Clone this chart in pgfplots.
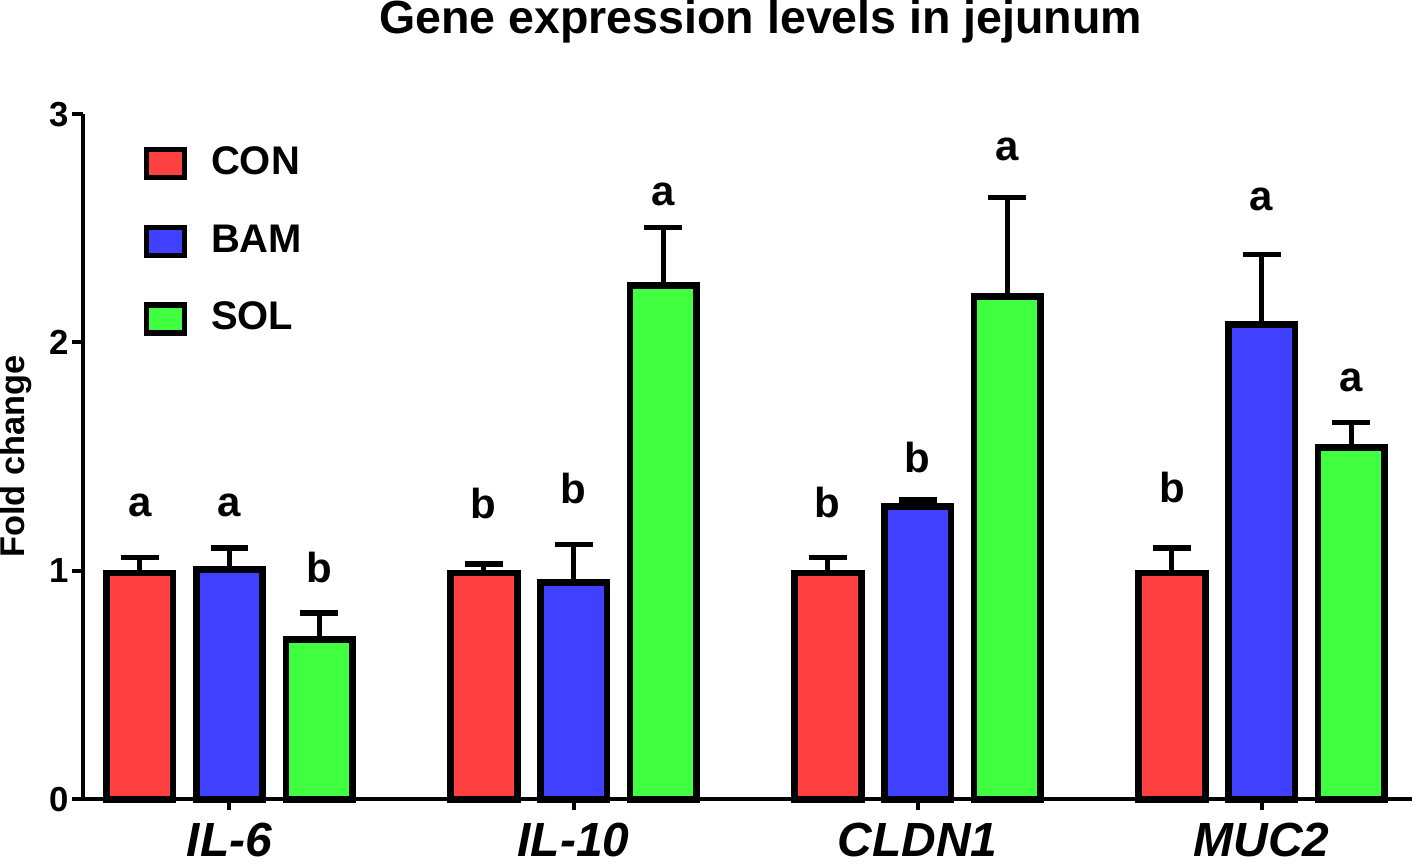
\documentclass[border=0pt]{standalone}
\usepackage{fontspec}
\setmainfont{Liberation Sans}
\usepackage{pgfplots}
\pgfplotsset{compat=1.18}
\definecolor{conred}{HTML}{FF4040}
\definecolor{bamblue}{HTML}{4040FF}
\definecolor{solgreen}{HTML}{40FF40}

% bar centre x, mean, upper SEM
\pgfplotstableread{
x      y     e
-0.261 0.99  0.07
 0.739 0.99  0.04
 1.739 0.99  0.07
 2.739 0.99  0.11
}\con
\pgfplotstableread{
x      y     e
 0.000 1.005 0.095
 1.000 0.95  0.165
 2.000 1.28  0.03
 3.000 2.08  0.305
}\bam
\pgfplotstableread{
x      y     e
 0.261 0.70  0.115
 1.261 2.25  0.255
 2.261 2.20  0.435
 3.261 1.54  0.11
}\sol
% significance letters (baseline height)
\pgfplotstableread{
x      ly    lab
-0.261 1.237 a
 0.000 1.237 a
 0.261 0.949 b
 0.739 1.229 b
 1.000 1.294 b
 1.261 2.602 a
 1.739 1.233 b
 2.000 1.430 b
 2.261 2.798 a
 2.739 1.299 b
 3.000 2.580 a
 3.261 1.784 a
}\letters

\pgfplotsset{
  gbar/.style={ybar, bar width=0.194, bar shift=0pt, draw=black, line width=1.7pt,
    legend image code/.code={\draw[##1, line width=1.3pt] (0pt,-3.5pt) rectangle (9.5pt,3.5pt);},
    error bars/y dir=plus, error bars/y explicit,
    error bars/error bar style={line width=1.3pt, black},
    error bars/error mark options={rotate=90, mark size=4.75pt, line width=1.3pt, black}},
  every axis title shift=0pt
}

\begin{document}
\begin{tikzpicture}
\begin{axis}[
  scale only axis, width=332.75pt, height=171.5pt,
  xmin=-0.426, xmax=3.437, ymin=0, ymax=3,
  axis x line=bottom, axis y line=left,
  axis line style={-, line width=1pt},
  xtick={0,1,2,3},
  xticklabels={IL-6,IL-10,CLDN1,MUC2},
  ytick={0,1,2,3},
  tick align=outside, major tick length=2.75pt,
  tick style={line width=1pt, black},
  /pgf/number format/assume math mode=true,
  yticklabel style={font=\bfseries\fontsize{8.7}{10}\selectfont, inner sep=0.7pt},
  xticklabel style={font=\bfseries\itshape\fontsize{12}{14}\selectfont, inner xsep=0pt, inner ysep=2pt, yshift=-1pt},
  ylabel={Fold change},
  ylabel style={font=\bfseries\fontsize{8.6}{10}\selectfont, inner sep=0pt,
    at={(axis description cs:-0.0503,0.50)}, anchor=center},
  title={Gene expression levels in jejunum},
  title style={font=\bfseries\fontsize{11.65}{14}\selectfont, inner sep=0pt,
    at={(axis description cs:0.510,1.135)}, anchor=center},
  legend style={at={(axis description cs:0,1)}, anchor=north west, xshift=15.1pt, yshift=-8pt,
    draw=none, fill=none, inner sep=0pt, row sep=11pt, column sep=6pt,
    font=\bfseries\fontsize{10}{12}\selectfont, nodes={inner sep=0pt}},
  legend cell align=left,
  clip=false,
]
\addplot[gbar, fill=conred] table[x=x, y=y, y error=e] {\con};
\addlegendentry{CON}
\addplot[gbar, fill=bamblue] table[x=x, y=y, y error=e] {\bam};
\addlegendentry{BAM}
\addplot[gbar, fill=solgreen] table[x=x, y=y, y error=e] {\sol};
\addlegendentry{SOL}
\addplot[draw=none, mark=none, forget plot, nodes near coords, point meta=explicit symbolic,
  every node near coord/.style={font=\bfseries\fontsize{10.5}{12}\selectfont, inner sep=0pt, anchor=base}]
  table[x=x, y=ly, meta=lab] {\letters};
\end{axis}
\end{tikzpicture}
\end{document}
